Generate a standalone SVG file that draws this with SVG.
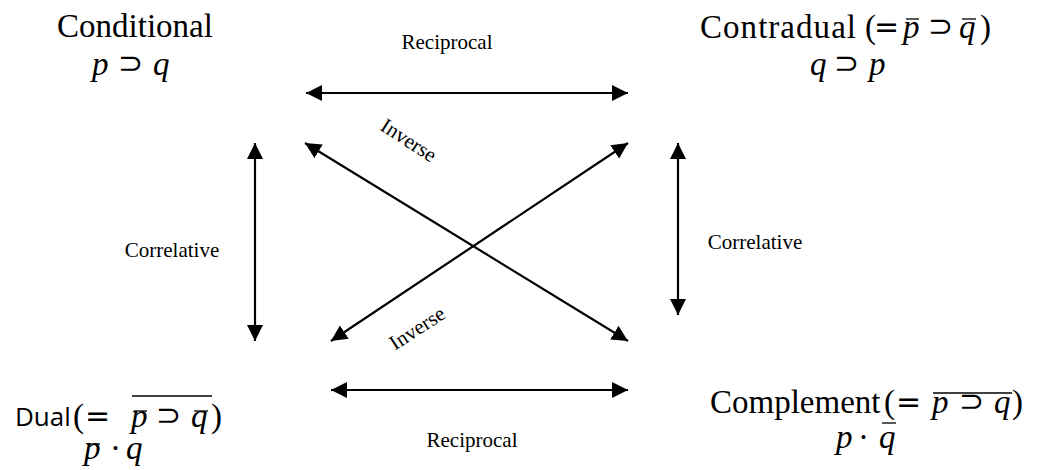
<svg xmlns="http://www.w3.org/2000/svg" width="1040" height="470" viewBox="0 0 1040 470">
<style>
.t{font-family:"Liberation Serif","Times New Roman",serif;fill:#000}
.big{font-size:33px}
.lbl{font-size:21px}
.m{font-family:"Liberation Serif","DejaVu Serif",serif;font-style:italic;font-size:33px}
.r{font-family:"Liberation Serif","Times New Roman",serif;font-style:normal;font-size:33px}
.op{font-family:"DejaVu Sans",sans-serif;font-style:normal;font-size:30px}
.sans{font-family:"Open Sans","Noto Sans",sans-serif;font-style:normal;font-size:26px}
.bar{stroke:#000;stroke-width:1.3;fill:none}
.c{stroke:#000;stroke-width:2.2;fill:none;marker-start:url(#ah);marker-end:url(#ah)}
</style>
<defs>
<marker id="ah" markerUnits="userSpaceOnUse" markerWidth="16" markerHeight="16" refX="16" refY="8" orient="auto-start-reverse" viewBox="0 0 16 16">
<path d="M0,0 L16,8 L0,16 z" fill="#000"/>
</marker>
</defs>
<rect width="1040" height="470" fill="#fff"/>

<g id="conditional">
<text class="t big" x="135" y="37" text-anchor="middle">Conditional</text>
<text class="m" y="75"><tspan x="92">p</tspan><tspan class="op" x="118" y="73">⊃</tspan><tspan x="153" y="75">q</tspan></text>
</g>

<g id="contradual">
<text class="m" y="38"><tspan class="r" x="700" textLength="156">Contradual</tspan><tspan class="r" x="865">(</tspan><tspan class="op" x="874" y="37">=</tspan><tspan x="903" y="38">p</tspan><tspan class="op" x="928" y="36">⊃</tspan><tspan x="959" y="38">q</tspan><tspan class="r" x="980">)</tspan></text>
<line class="bar" x1="906" y1="19" x2="919" y2="19"/>
<line class="bar" x1="962" y1="19" x2="976" y2="19"/>
<text class="m" y="75"><tspan x="810">q</tspan><tspan class="op" x="834" y="73">⊃</tspan><tspan x="869" y="75">p</tspan></text>
</g>

<g id="dual">
<text class="m" y="427"><tspan class="sans" x="15" y="426">Dual</tspan><tspan class="r" x="73" y="427">(</tspan><tspan class="op" x="85" y="426">=</tspan><tspan x="131" y="427">p</tspan><tspan class="op" x="156" y="425">⊃</tspan><tspan x="191" y="427">q</tspan><tspan class="r" x="211" y="427">)</tspan></text>
<line class="bar" x1="134" y1="411" x2="147" y2="411"/>
<line class="bar" x1="194" y1="411" x2="208" y2="411"/>
<line class="bar" x1="132" y1="396" x2="212" y2="396"/>
<text class="m" y="459"><tspan x="84">p</tspan><tspan class="r" x="110">·</tspan><tspan x="126">q</tspan></text>
<line class="bar" x1="87" y1="444" x2="100" y2="444"/>
</g>

<g id="complement">
<text class="m" y="413"><tspan class="r" x="710">Complement</tspan><tspan class="r" x="884">(</tspan><tspan class="op" x="896" y="412">=</tspan><tspan x="932" y="413">p</tspan><tspan class="op" x="959" y="411">⊃</tspan><tspan x="994" y="413">q</tspan><tspan class="r" x="1012" y="413">)</tspan></text>
<line class="bar" x1="933" y1="393" x2="1012" y2="393"/>
<text class="m" y="448"><tspan x="836">p</tspan><tspan class="r" x="858">·</tspan><tspan x="879">q</tspan></text>
<line class="bar" x1="882" y1="423" x2="896" y2="423"/>
</g>

<g id="connectors">
<line class="c" x1="306" y1="93" x2="628" y2="93"/>
<line class="c" x1="331" y1="390" x2="628" y2="390"/>
<line class="c" x1="255" y1="143" x2="255" y2="341"/>
<line class="c" x1="678" y1="143" x2="678" y2="315"/>
<line class="c" x1="305" y1="143" x2="628" y2="341"/>
<line class="c" x1="628" y1="143" x2="331" y2="341"/>
</g>

<g id="labels">
<text class="t lbl" x="447" y="49" text-anchor="middle">Reciprocal</text>
<text class="t lbl" x="472" y="447" text-anchor="middle">Reciprocal</text>
<text class="t lbl" x="172" y="257" text-anchor="middle">Correlative</text>
<text class="t lbl" x="755" y="249" text-anchor="middle">Correlative</text>
<text class="t lbl" text-anchor="middle" transform="translate(405,146) rotate(33)">Inverse</text>
<text class="t lbl" text-anchor="middle" transform="translate(421,334) rotate(-33)">Inverse</text>
</g>
</svg>
